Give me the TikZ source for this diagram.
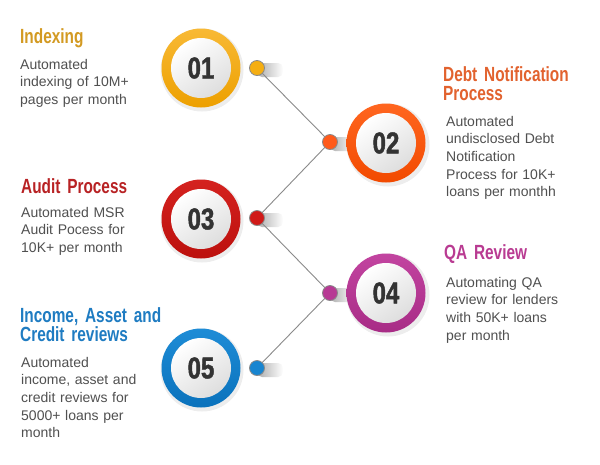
\documentclass[tikz,border=0pt]{standalone}
\usepackage{fontspec}
\setmainfont{Liberation Sans}
\newfontfamily\condfont{Liberation Sans}[BoldFeatures={FakeStretch=0.75}]
\newfontfamily\numfont{Liberation Sans}[BoldFeatures={FakeStretch=0.8,FakeBold=1.5}]
\usetikzlibrary{fadings}
\definecolor{bodygray}{HTML}{505050}
\definecolor{numgray}{HTML}{333333}
\definecolor{linegray}{HTML}{8A8A8A}
\definecolor{rAtop}{HTML}{F8B935}\definecolor{rAbot}{HTML}{EDA000}\definecolor{tA}{HTML}{D39A22}\definecolor{dA}{HTML}{F5AE12}
\definecolor{rBtop}{HTML}{FF6620}\definecolor{rBbot}{HTML}{F24A00}\definecolor{tB}{HTML}{E2622E}\definecolor{dB}{HTML}{FF5A1A}
\definecolor{rCtop}{HTML}{D4221F}\definecolor{rCbot}{HTML}{BC100D}\definecolor{tC}{HTML}{B82224}\definecolor{dC}{HTML}{D01A18}
\definecolor{rDtop}{HTML}{C244A0}\definecolor{rDbot}{HTML}{A82C86}\definecolor{tD}{HTML}{B93B92}\definecolor{dD}{HTML}{B73A94}
\definecolor{rEtop}{HTML}{1E8CD6}\definecolor{rEbot}{HTML}{0A72BC}\definecolor{tE}{HTML}{1F7CC2}\definecolor{dE}{HTML}{1885D0}
\tikzset{
  ringnode/.style={circle, minimum size=79pt, inner sep=0pt},
  innernode/.style={circle, minimum size=60pt, inner sep=0pt, top color=white, bottom color=black!13, shading angle=35,
     font=\numfont\bfseries\fontsize{30}{30}\selectfont, text=numgray},
  dotnode/.style={circle, minimum size=15pt, inner sep=0pt, draw=linegray, line width=0.8pt},
  conn/.style={draw=linegray, line width=0.9pt},
  titletext/.style={anchor=base west, inner sep=0pt, align=left, text width=160pt,
     font=\condfont\bfseries\fontsize{20.5}{19}\selectfont},
  bodytext/.style={anchor=base west, inner sep=0pt, align=left, text width=150pt, text=bodygray,
     font=\fontsize{14}{17.7}\selectfont},
  dotshadow/.style={fill=black!32, path fading=east, rounded corners=5pt},
  ringshadow/.style={fill=black, opacity=0.07}
}
\begin{document}
\begin{tikzpicture}[x=1pt,y=-1pt]
\useasboundingbox[fill=white] (0,0) rectangle (600,464);

% ring shadows
\fill[ringshadow] (202,70) circle (41.5);
\fill[ringshadow] (388,145) circle (41.5);
\fill[ringshadow] (202,221) circle (41.5);
\fill[ringshadow] (388,295) circle (41.5);
\fill[ringshadow] (202,370) circle (41.5);

% dot shadows
\fill[dotshadow] (257,63) rectangle (283,77);
\fill[dotshadow] (330,137) rectangle (354,151);
\fill[dotshadow] (257,213) rectangle (283,227);
\fill[dotshadow] (330,288) rectangle (354,302);
\fill[dotshadow] (257,363) rectangle (283,377);

% rings
\node[ringnode, top color=rAtop, bottom color=rAbot] (c1) at (201,68) {};
\node[ringnode, top color=rBtop, bottom color=rBbot] (c2) at (386,143) {};
\node[ringnode, top color=rCtop, bottom color=rCbot] (c3) at (201,219) {};
\node[ringnode, top color=rDtop, bottom color=rDbot] (c4) at (386,293) {};
\node[ringnode, top color=rEtop, bottom color=rEbot] (c5) at (201,368) {};

\node[innernode] (n1) at (c1) {01};
\node[innernode] (n2) at (c2) {02};
\node[innernode] (n3) at (c3) {03};
\node[innernode] (n4) at (c4) {04};
\node[innernode] (n5) at (c5) {05};

% dots
\coordinate (p1) at (257,68);
\coordinate (p2) at (330,142);
\coordinate (p3) at (257,218);
\coordinate (p4) at (330,293);
\coordinate (p5) at (257,368);
\draw[conn] (p1) -- (p2) -- (p3) -- (p4) -- (p5);
\node[dotnode, fill=dA] (d1) at (p1) {};
\node[dotnode, fill=dB] (d2) at (p2) {};
\node[dotnode, fill=dC] (d3) at (p3) {};
\node[dotnode, fill=dD] (d4) at (p4) {};
\node[dotnode, fill=dE] (d5) at (p5) {};

% texts
\node[titletext, text=tA] (t1) at (20,43) {Indexing};
\node[bodytext] (b1) at (20,69) {Automated\\indexing of 10M+\\pages per month};

\node[titletext, text=tB] (t2) at (443,81) {Debt Notification\\Process};
\node[bodytext] (b2) at (446,126) {Automated\\undisclosed Debt\\Notification\\Process for 10K+\\loans per monthh};

\node[titletext, text=tC] (t3) at (21,193) {Audit Process};
\node[bodytext] (b3) at (21,217) {Automated MSR\\Audit Pocess for\\10K+ per month};

\node[titletext, text=tD] (t4) at (444,259) {QA Review};
\node[bodytext] (b4) at (446,287) {Automating QA\\review for lenders\\with 50K+ loans\\per month};

\node[titletext, text=tE] (t5) at (20,322) {Income, Asset and\\Credit reviews};
\node[bodytext] (b5) at (21,367) {Automated\\income, asset and\\credit reviews for\\5000+ loans per\\month};
\end{tikzpicture}
\end{document}
